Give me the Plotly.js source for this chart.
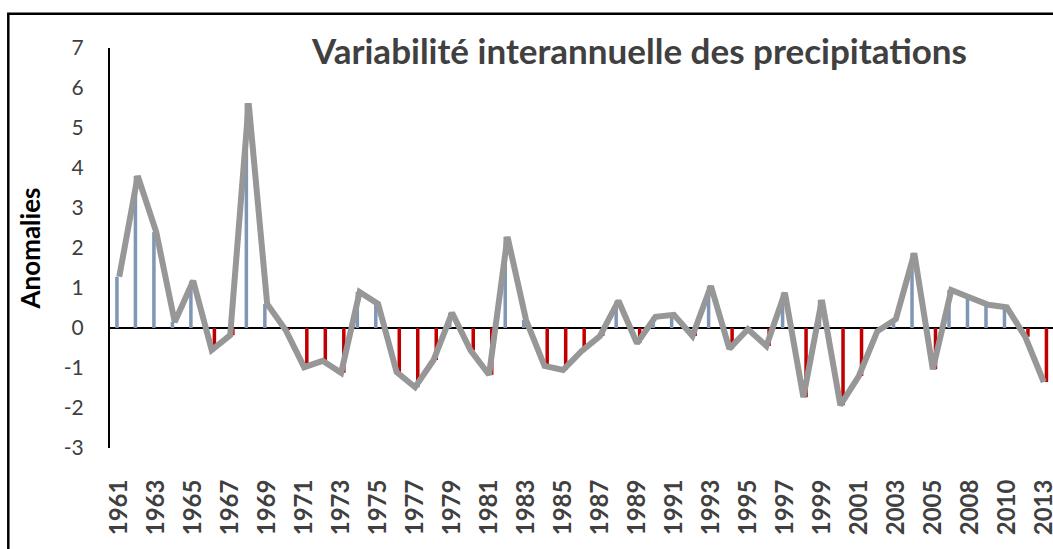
<!DOCTYPE html>
<html>
<head>
<meta charset="utf-8">
<script src="https://cdn.plot.ly/plotly-3.0.1.min.js"></script>
<style>
  html, body { margin: 0; padding: 0; background: #fff; }
  #chart { width: 1053px; height: 549px; }
</style>
</head>
<body>
<div id="chart"></div>
<script>
// Years (category axis; two years of the series are absent in the source)
const years = ["1961","1962","1963","1964","1965","1966","1967","1968","1969","1970",
  "1971","1972","1973","1974","1975","1976","1977","1978","1979","1980",
  "1981","1982","1983","1984","1985","1986","1987","1988","1989","1990",
  "1991","1992","1993","1994","1995","1996","1997","1998","1999","2000",
  "2001","2002","2003","2004","2005","2006","2008","2009","2010","2011","2013"];

// Precipitation anomalies
const anomalies = [1.28, 3.80, 2.40, 0.15, 1.18, -0.55, -0.18, 5.62, 0.60, -0.05,
  -0.98, -0.82, -1.12, 0.90, 0.60, -1.10, -1.48, -0.80, 0.38, -0.56,
  -1.17, 2.28, 0.20, -0.95, -1.05, -0.58, -0.20, 0.68, -0.38, 0.28,
  0.33, -0.20, 1.05, -0.52, -0.03, -0.45, 0.88, -1.73, 0.70, -1.93,
  -1.20, -0.08, 0.22, 1.87, -1.03, 0.95, 0.76, 0.58, 0.52, -0.22, -1.35];

// Tick labels shown on the x axis (every other category)
const tickYears = years.filter((y, i) => i % 2 === 0);

// Y axis ticks and their labels (plain hyphen minus, as in the source)
const yTickVals = [-3, -2, -1, 0, 1, 2, 3, 4, 5, 6, 7];
const yTickText = ["-3", "-2", "-1", "0", "1", "2", "3", "4", "5", "6", "7"];

const positive = anomalies.map(v => (v > 0 ? v : null));
const negative = anomalies.map(v => (v < 0 ? v : null));

const traces = [
  {
    type: "bar", x: years, y: positive, name: "Positive",
    marker: { color: "#7F97B5" }, width: 0.19, offset: -0.22,
    hoverinfo: "x+y"
  },
  {
    type: "bar", x: years, y: negative, name: "Négative",
    marker: { color: "#C00000" }, width: 0.19, offset: 0.05,
    hoverinfo: "x+y"
  },
  {
    type: "scatter", mode: "lines", x: years, y: anomalies, name: "Anomalies",
    line: { color: "#979797", width: 6 }, hoverinfo: "x+y"
  }
];

const W = 1053, H = 549, L = 110, R = 0, T = 48, B = 101;
const pw = W - L - R, ph = H - T - B;
const px2x = p => (p - L) / pw;
const py2y = p => (H - B - p) / ph;

const layout = {
  width: W, height: H,
  margin: { l: L, r: R, t: T, b: B, pad: 0 },
  paper_bgcolor: "#ffffff", plot_bgcolor: "#ffffff",
  showlegend: false,
  barmode: "overlay",
  font: { family: "Lato, 'Open Sans', sans-serif", color: "#404040" },
  title: {
    text: "<b>Variabilité interannuelle des precipitations</b>",
    font: { family: "Lato, sans-serif", size: 35, color: "#404040" },
    x: 639.5 / W, xref: "container", xanchor: "center",
    y: 1 - 52 / H, yref: "container", yanchor: "middle"
  },
  xaxis: {
    type: "category",
    range: [-0.5, years.length - 0.5],
    tickmode: "array", tickvals: tickYears, ticktext: tickYears,
    tickangle: -90,
    tickfont: { family: "Lato, sans-serif", size: 24, color: "#404040", weight: "bold" },
    ticks: "outside", ticklen: 21, tickcolor: "rgba(0,0,0,0)",
    showline: false, showgrid: false, zeroline: false, fixedrange: true
  },
  yaxis: {
    range: [-3, 7],
    tickmode: "array", tickvals: yTickVals, ticktext: yTickText,
    tickfont: { family: "Lato, sans-serif", size: 21, color: "#404040" },
    ticks: "outside", ticklen: 20, tickcolor: "rgba(0,0,0,0)",
    showline: true, linecolor: "#000000", linewidth: 2,
    showgrid: false,
    zeroline: true, zerolinecolor: "#000000", zerolinewidth: 1.5,
    title: {
      text: "<b>Anomalies</b>",
      font: { family: "Lato, sans-serif", size: 26, color: "#000000" },
      standoff: 16
    },
    fixedrange: true
  },
  shapes: [
    {
      type: "rect", xref: "paper", yref: "paper",
      x0: px2x(8.3), x1: px2x(1080), y0: py2y(600), y1: py2y(13.7),
      line: { color: "#000000", width: 2.5 }, fillcolor: "rgba(0,0,0,0)",
      layer: "above"
    }
  ]
};

Plotly.newPlot("chart", traces, layout, { displayModeBar: false, staticPlot: true });
</script>
</body>
</html>
